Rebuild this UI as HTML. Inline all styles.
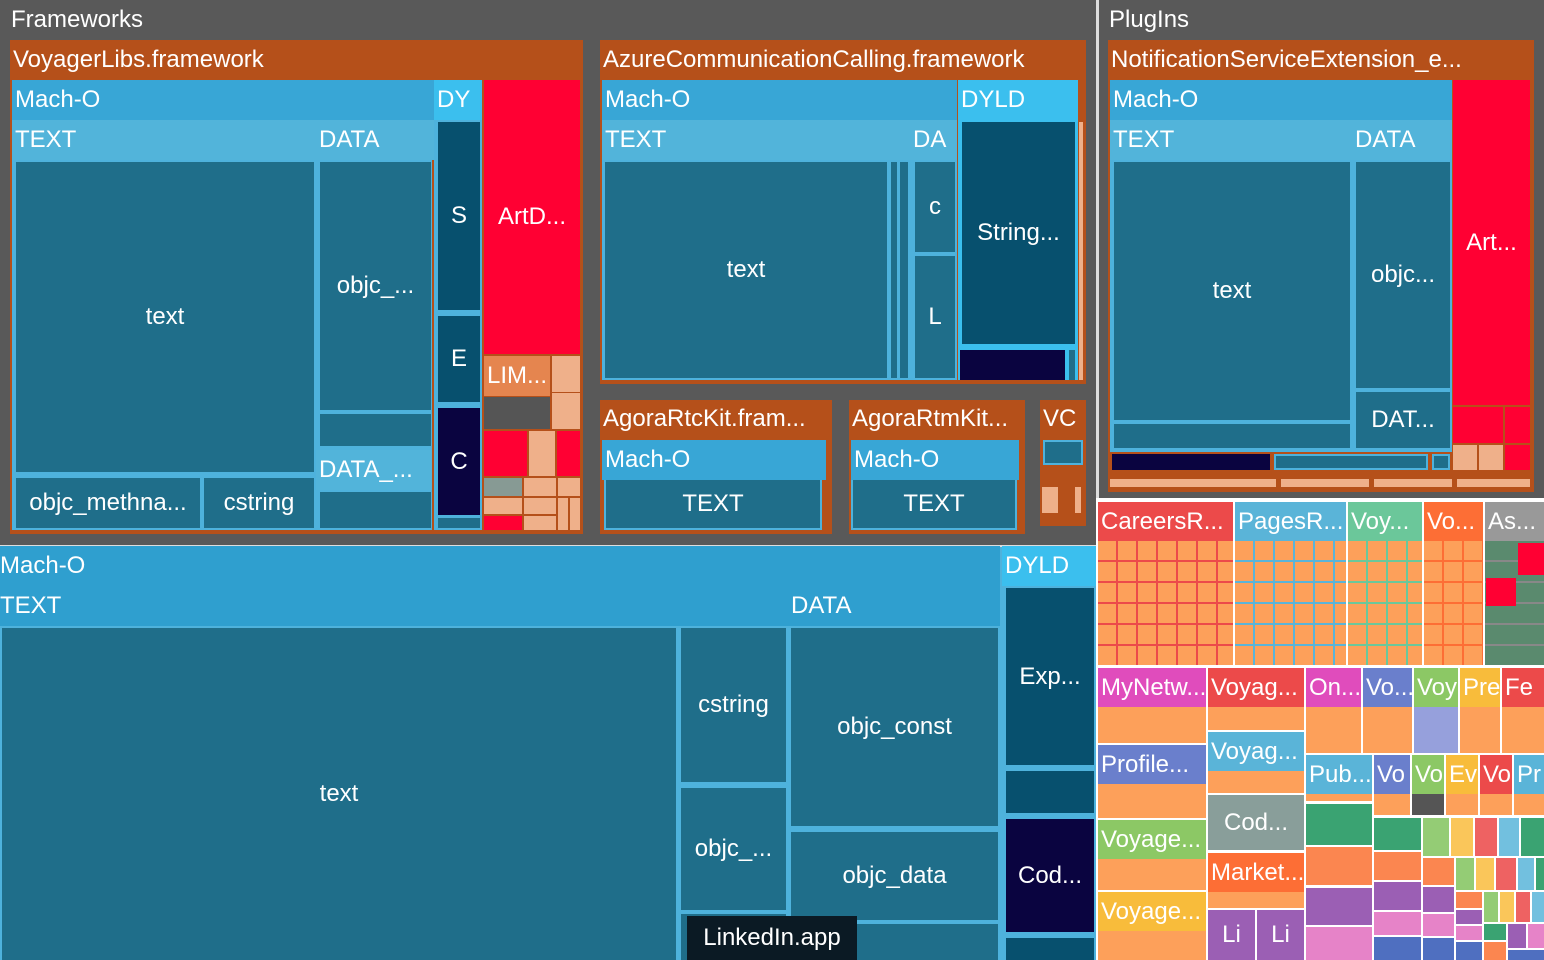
<!DOCTYPE html>
<html><head><meta charset="utf-8"><style>
body{margin:0;width:1544px;height:960px;overflow:hidden;background:#595959;position:relative;font-family:"Liberation Sans",sans-serif;color:#fff}
div{position:absolute;box-sizing:border-box;overflow:hidden;white-space:nowrap}
.h{font-size:24px;line-height:40px;padding-left:3px}
.c{display:flex;align-items:center;justify-content:center;font-size:24px}
.o{background:#b5501a}.m{background:#38a6d6}.t{background:#52b4da}.k{background:#1f6e8a}
.y{background:#3bbfee}.d{background:#07506e}.n{background:#0a0440}.r{background:#ff0033}.p{background:#fda05a}.q{background:#efb08a}
</style></head><body>
<div class="h" style="left:8px;top:0;line-height:40px">Frameworks</div>
<div class="h" style="left:1106px;top:0">PlugIns</div>
<div style="left:1096px;top:0;width:3px;height:545px;background:#ddd"></div>

<!-- VoyagerLibs -->
<div class="o" style="left:10px;top:40px;width:573px;height:494px"></div>
<div class="h" style="left:10px;top:40px">VoyagerLibs.framework</div>
<div class="m" style="left:12px;top:80px;width:420px;height:450px;background:#4eb2dc"></div>
<div class="h m" style="left:12px;top:80px;width:422px;height:40px">Mach-O</div>
<div class="h t" style="left:12px;top:120px;width:304px;height:40px">TEXT</div>
<div class="k c" style="left:16px;top:162px;width:298px;height:310px">text</div>
<div class="k c" style="left:16px;top:478px;width:184px;height:50px">objc_methna...</div>
<div class="k c" style="left:204px;top:478px;width:110px;height:50px">cstring</div>
<div class="h t" style="left:316px;top:120px;width:118px;height:40px">DATA</div>
<div class="k c" style="left:320px;top:162px;width:111px;height:248px">objc_...</div>
<div class="k" style="left:320px;top:414px;width:111px;height:32px"></div>
<div class="h t" style="left:316px;top:450px;width:116px;height:40px">DATA_...</div>
<div class="k" style="left:320px;top:492px;width:111px;height:36px"></div>
<div class="y" style="left:434px;top:80px;width:48px;height:450px;background:#4eb2dc"></div>
<div class="h y" style="left:434px;top:80px;width:48px;height:40px">DY</div>
<div class="d c" style="left:438px;top:122px;width:42px;height:188px">S</div>
<div class="d c" style="left:438px;top:316px;width:42px;height:86px">E</div>
<div class="n c" style="left:438px;top:408px;width:42px;height:107px">C</div>
<div class="k" style="left:438px;top:518px;width:42px;height:10px"></div>
<div class="r c" style="left:484px;top:80px;width:96px;height:274px">ArtD...</div>
<div class="h" style="left:484px;top:356px;width:66px;height:40px;background:#e5854f">LIM...</div>
<div style="left:484px;top:397px;width:66px;height:32px;background:#555"></div>
<div class="q" style="left:552px;top:356px;width:28px;height:36px"></div>
<div class="q" style="left:552px;top:393px;width:28px;height:36px"></div>
<div class="r" style="left:484px;top:431px;width:43px;height:45px"></div>
<div class="q" style="left:529px;top:431px;width:26px;height:45px"></div>
<div class="r" style="left:557px;top:431px;width:23px;height:45px"></div>
<div style="left:484px;top:478px;width:38px;height:18px;background:#879a94"></div>
<div class="q" style="left:524px;top:478px;width:32px;height:18px"></div>
<div class="q" style="left:558px;top:478px;width:22px;height:18px"></div>
<div class="q" style="left:484px;top:498px;width:38px;height:16px"></div>
<div class="q" style="left:524px;top:498px;width:32px;height:16px"></div>
<div class="q" style="left:558px;top:498px;width:10px;height:32px"></div>
<div class="q" style="left:570px;top:498px;width:10px;height:32px"></div>
<div class="r" style="left:484px;top:516px;width:38px;height:14px"></div>
<div class="q" style="left:524px;top:516px;width:32px;height:14px"></div>

<!-- Azure -->
<div class="o" style="left:600px;top:40px;width:486px;height:344px"></div>
<div class="h" style="left:600px;top:40px">AzureCommunicationCalling.framework</div>
<div style="left:602px;top:80px;width:355px;height:300px;background:#4eb2dc"></div>
<div class="h m" style="left:602px;top:80px;width:355px;height:40px">Mach-O</div>
<div class="h t" style="left:602px;top:120px;width:308px;height:40px">TEXT</div>
<div class="k c" style="left:605px;top:162px;width:282px;height:216px">text</div>
<div class="k" style="left:891px;top:162px;width:6px;height:216px"></div>
<div class="k" style="left:900px;top:162px;width:8px;height:216px"></div>
<div class="h t" style="left:910px;top:120px;width:47px;height:40px">DA</div>
<div class="k c" style="left:915px;top:162px;width:40px;height:90px">c</div>
<div class="k c" style="left:915px;top:256px;width:40px;height:122px">L</div>
<div style="left:958px;top:80px;width:120px;height:300px;background:#3bbfee"></div>
<div class="h y" style="left:958px;top:80px;width:120px;height:40px">DYLD</div>
<div class="d c" style="left:962px;top:122px;width:113px;height:222px">String...</div>
<div class="n" style="left:960px;top:350px;width:105px;height:30px"></div>
<div class="k" style="left:1069px;top:350px;width:6px;height:30px"></div>
<div class="q" style="left:1079px;top:122px;width:4px;height:258px"></div>

<!-- Agora -->
<div class="o" style="left:600px;top:400px;width:232px;height:134px"></div>
<div class="h" style="left:600px;top:399px">AgoraRtcKit.fram...</div>
<div class="h m" style="left:602px;top:440px;width:224px;height:40px">Mach-O</div>
<div class="k c" style="left:604px;top:480px;width:218px;height:50px;border:2px solid #4eb2dc;border-top:0">TEXT</div>
<div class="o" style="left:849px;top:400px;width:176px;height:134px"></div>
<div class="h" style="left:849px;top:399px">AgoraRtmKit...</div>
<div class="h m" style="left:851px;top:440px;width:168px;height:40px">Mach-O</div>
<div class="k c" style="left:851px;top:480px;width:166px;height:50px;border:2px solid #4eb2dc;border-top:0">TEXT</div>
<div class="o" style="left:1040px;top:400px;width:46px;height:126px"></div>
<div class="h" style="left:1040px;top:399px">VC</div>
<div class="k" style="left:1043px;top:440px;width:40px;height:25px;border:2px solid #4eb2dc"></div>
<div class="q" style="left:1042px;top:487px;width:16px;height:26px"></div>
<div class="q" style="left:1075px;top:487px;width:6px;height:26px"></div>

<!-- PlugIns -->
<div class="o" style="left:1108px;top:40px;width:426px;height:452px"></div>
<div class="h" style="left:1108px;top:40px">NotificationServiceExtension_e...</div>
<div style="left:1110px;top:80px;width:342px;height:372px;background:#4eb2dc"></div>
<div class="h m" style="left:1110px;top:80px;width:342px;height:40px">Mach-O</div>
<div class="h t" style="left:1110px;top:120px;width:242px;height:40px">TEXT</div>
<div class="k c" style="left:1114px;top:162px;width:236px;height:258px">text</div>
<div class="k" style="left:1114px;top:424px;width:236px;height:24px"></div>
<div class="h t" style="left:1352px;top:120px;width:100px;height:40px">DATA</div>
<div class="k c" style="left:1356px;top:162px;width:94px;height:226px">objc...</div>
<div class="k c" style="left:1356px;top:392px;width:94px;height:56px">DAT...</div>
<div class="r c" style="left:1453px;top:80px;width:77px;height:325px">Art...</div>
<div class="r" style="left:1453px;top:407px;width:50px;height:36px"></div>
<div class="r" style="left:1505px;top:407px;width:25px;height:36px"></div>
<div class="q" style="left:1453px;top:445px;width:24px;height:25px"></div>
<div class="q" style="left:1479px;top:445px;width:24px;height:25px"></div>
<div class="r" style="left:1505px;top:445px;width:25px;height:25px"></div>
<div class="n" style="left:1112px;top:454px;width:158px;height:16px"></div>
<div class="k" style="left:1274px;top:454px;width:154px;height:16px;border:2px solid #4eb2dc"></div>
<div class="k" style="left:1432px;top:454px;width:18px;height:16px;border:2px solid #4eb2dc"></div>
<div class="q" style="left:1110px;top:479px;width:166px;height:8px"></div>
<div class="q" style="left:1281px;top:479px;width:88px;height:8px"></div>
<div class="q" style="left:1374px;top:479px;width:78px;height:8px"></div>
<div class="q" style="left:1457px;top:479px;width:73px;height:8px"></div>

<!-- Main app -->
<div style="left:0;top:545px;width:1098px;height:415px;background:#4eb2dc;border-top:2px solid #ddd"></div>
<div class="h" style="left:0;top:546px;width:1000px;height:40px;background:#2f9fcf;padding-left:0">Mach-O</div>
<div class="h" style="left:0;top:586px;width:788px;height:40px;background:#2f9fcf;padding-left:0">TEXT</div>
<div class="k c" style="left:2px;top:628px;width:674px;height:332px">text</div>
<div class="k c" style="left:681px;top:628px;width:105px;height:154px">cstring</div>
<div class="k c" style="left:681px;top:788px;width:105px;height:122px">objc_...</div>
<div class="k" style="left:681px;top:914px;width:105px;height:46px"></div>
<div class="h" style="left:788px;top:586px;width:212px;height:40px;background:#2f9fcf">DATA</div>
<div class="k c" style="left:791px;top:628px;width:207px;height:198px">objc_const</div>
<div class="k c" style="left:791px;top:832px;width:207px;height:88px">objc_data</div>
<div class="k" style="left:791px;top:924px;width:207px;height:36px"></div>
<div class="h y" style="left:1002px;top:546px;width:94px;height:40px">DYLD</div>
<div class="d c" style="left:1006px;top:588px;width:88px;height:177px">Exp...</div>
<div class="d" style="left:1006px;top:771px;width:88px;height:42px"></div>
<div class="n c" style="left:1006px;top:819px;width:88px;height:113px">Cod...</div>
<div class="d" style="left:1006px;top:938px;width:88px;height:22px"></div>
<div class="c" style="left:687px;top:916px;width:170px;height:44px;background:#0b1a24">LinkedIn.app</div>

<!-- bottom right -->
<div style="left:1096px;top:498px;width:448px;height:462px;background:#fff"></div>
<div class="p" style="left:1098px;top:502px;width:135px;height:163px;background:repeating-linear-gradient(0deg,transparent 0 19px,#ec4a4a 19px 21px),repeating-linear-gradient(90deg,#fda05a 0 18px,#ec4a4a 18px 20px)"></div>
<div class="h" style="left:1098px;top:502px;width:135px;height:39px;background:#ec4a4a;line-height:39px">CareersR...</div>
<div class="p" style="left:1235px;top:502px;width:111px;height:163px;background:repeating-linear-gradient(0deg,transparent 0 19px,#5ab4d8 19px 21px),repeating-linear-gradient(90deg,#fda05a 0 18px,#5ab4d8 18px 20px)"></div>
<div class="h" style="left:1235px;top:502px;width:111px;height:39px;background:#5ab4d8;line-height:39px">PagesR...</div>
<div class="p" style="left:1348px;top:502px;width:74px;height:163px;background:repeating-linear-gradient(0deg,transparent 0 19px,#6bc79a 19px 21px),repeating-linear-gradient(90deg,#fda05a 0 18px,#6bc79a 18px 20px)"></div>
<div class="h" style="left:1348px;top:502px;width:74px;height:39px;background:#6bc79a;line-height:39px">Voy...</div>
<div class="p" style="left:1424px;top:502px;width:59px;height:163px;background:repeating-linear-gradient(0deg,transparent 0 19px,#fd6e35 19px 21px),repeating-linear-gradient(90deg,#fda05a 0 18px,#fd6e35 18px 20px)"></div>
<div class="h" style="left:1424px;top:502px;width:59px;height:39px;background:#fd6e35;line-height:39px">Vo...</div>
<div style="left:1485px;top:502px;width:59px;height:163px;background:repeating-linear-gradient(0deg,#5a8a6e 0 19px,#888 19px 21px)"></div>
<div class="h" style="left:1485px;top:502px;width:59px;height:39px;background:#999;line-height:39px">As...</div>
<div class="r" style="left:1518px;top:543px;width:26px;height:32px"></div>
<div class="r" style="left:1486px;top:578px;width:30px;height:28px"></div>

<div class="p" style="left:1098px;top:668px;width:108px;height:75px"></div>
<div class="h" style="left:1098px;top:668px;width:108px;height:39px;background:#e04cbc;line-height:39px">MyNetw...</div>
<div class="p" style="left:1208px;top:668px;width:96px;height:62px"></div>
<div class="h" style="left:1208px;top:668px;width:96px;height:39px;background:#ec4a4a;line-height:39px">Voyag...</div>
<div class="p" style="left:1208px;top:732px;width:96px;height:61px"></div>
<div class="h" style="left:1208px;top:732px;width:96px;height:39px;background:#5ab4d8;line-height:39px">Voyag...</div>
<div class="p" style="left:1306px;top:668px;width:55px;height:85px"></div>
<div class="h" style="left:1306px;top:668px;width:55px;height:39px;background:#e04cbc;line-height:39px">On...</div>
<div class="p" style="left:1363px;top:668px;width:49px;height:85px"></div>
<div class="h" style="left:1363px;top:668px;width:49px;height:39px;background:#6a7fcc;line-height:39px">Vo...</div>
<div style="left:1414px;top:668px;width:44px;height:85px;background:#96a0dc"></div>
<div class="h" style="left:1414px;top:668px;width:44px;height:39px;background:#8cc865;line-height:39px">Voy</div>
<div class="p" style="left:1460px;top:668px;width:40px;height:85px"></div>
<div class="h" style="left:1460px;top:668px;width:40px;height:39px;background:#f8bc3b;line-height:39px">Pre</div>
<div class="p" style="left:1502px;top:668px;width:42px;height:85px"></div>
<div class="h" style="left:1502px;top:668px;width:42px;height:39px;background:#ec4a4a;line-height:39px">Fe</div>

<div class="p" style="left:1098px;top:745px;width:108px;height:73px"></div>
<div class="h" style="left:1098px;top:745px;width:108px;height:39px;background:#6a7fcc;line-height:39px">Profile...</div>
<div class="p" style="left:1098px;top:820px;width:108px;height:70px"></div>
<div class="h" style="left:1098px;top:820px;width:108px;height:39px;background:#8cc865;line-height:39px">Voyage...</div>
<div class="p" style="left:1098px;top:892px;width:108px;height:68px"></div>
<div class="h" style="left:1098px;top:892px;width:108px;height:39px;background:#f8bc3b;line-height:39px">Voyage...</div>
<div class="c" style="left:1208px;top:795px;width:96px;height:55px;background:#899e9a">Cod...</div>
<div class="p" style="left:1208px;top:853px;width:96px;height:55px"></div>
<div class="h" style="left:1208px;top:853px;width:96px;height:39px;background:#fd6e35;line-height:39px">Market...</div>
<div class="c" style="left:1208px;top:910px;width:47px;height:50px;background:#9b5fb4">Li</div>
<div class="c" style="left:1257px;top:910px;width:47px;height:50px;background:#9b5fb4">Li</div>

<div class="p" style="left:1306px;top:755px;width:66px;height:46px"></div>
<div class="h" style="left:1306px;top:755px;width:66px;height:39px;background:#5ab4d8;line-height:39px">Pub...</div>
<div class="p" style="left:1374px;top:755px;width:36px;height:60px"></div>
<div class="h" style="left:1374px;top:755px;width:36px;height:39px;background:#6a7fcc;line-height:39px">Vo</div>
<div style="left:1412px;top:755px;width:32px;height:60px;background:#555"></div>
<div class="h" style="left:1412px;top:755px;width:32px;height:39px;background:#8cc865;line-height:39px">Vo</div>
<div class="p" style="left:1446px;top:755px;width:32px;height:60px"></div>
<div class="h" style="left:1446px;top:755px;width:32px;height:39px;background:#f8bc3b;line-height:39px">Ev</div>
<div class="p" style="left:1480px;top:755px;width:32px;height:60px"></div>
<div class="h" style="left:1480px;top:755px;width:32px;height:39px;background:#ec4a4a;line-height:39px">Vo</div>
<div class="p" style="left:1514px;top:755px;width:30px;height:60px"></div>
<div class="h" style="left:1514px;top:755px;width:30px;height:39px;background:#5ab4d8;line-height:39px">Pr</div>

<div style="left:1306px;top:804px;width:66px;height:41px;background:#3aa372"></div>
<div style="left:1306px;top:847px;width:66px;height:38px;background:#fb8650"></div>
<div style="left:1306px;top:888px;width:66px;height:37px;background:#9b5fb4"></div>
<div style="left:1306px;top:927px;width:66px;height:33px;background:#e683c8"></div>
<div style="left:1374px;top:818px;width:47px;height:32px;background:#3aa372"></div>
<div style="left:1374px;top:852px;width:47px;height:28px;background:#fb8650"></div>
<div style="left:1374px;top:882px;width:47px;height:28px;background:#9b5fb4"></div>
<div style="left:1374px;top:912px;width:47px;height:23px;background:#e683c8"></div>
<div style="left:1374px;top:937px;width:47px;height:23px;background:#4f6fc0"></div>
<div style="left:1423px;top:818px;width:26px;height:38px;background:#94cc75"></div>
<div style="left:1451px;top:818px;width:22px;height:38px;background:#fac65a"></div>
<div style="left:1475px;top:818px;width:22px;height:38px;background:#ee6262"></div>
<div style="left:1499px;top:818px;width:20px;height:38px;background:#72c0df"></div>
<div style="left:1521px;top:818px;width:23px;height:38px;background:#3aa372"></div>
<div style="left:1423px;top:858px;width:31px;height:27px;background:#fb8650"></div>
<div style="left:1423px;top:887px;width:31px;height:25px;background:#9b5fb4"></div>
<div style="left:1423px;top:914px;width:31px;height:22px;background:#e683c8"></div>
<div style="left:1423px;top:938px;width:31px;height:22px;background:#4f6fc0"></div>
<div style="left:1456px;top:858px;width:18px;height:32px;background:#94cc75"></div>
<div style="left:1476px;top:858px;width:18px;height:32px;background:#fac65a"></div>
<div style="left:1496px;top:858px;width:20px;height:32px;background:#ee6262"></div>
<div style="left:1518px;top:858px;width:16px;height:32px;background:#72c0df"></div>
<div style="left:1536px;top:858px;width:8px;height:32px;background:#3aa372"></div>
<div style="left:1456px;top:892px;width:26px;height:16px;background:#fb8650"></div>
<div style="left:1456px;top:910px;width:26px;height:14px;background:#9b5fb4"></div>
<div style="left:1456px;top:926px;width:26px;height:14px;background:#e683c8"></div>
<div style="left:1456px;top:942px;width:26px;height:18px;background:#4f6fc0"></div>
<div style="left:1484px;top:892px;width:14px;height:30px;background:#94cc75"></div>
<div style="left:1500px;top:892px;width:14px;height:30px;background:#fac65a"></div>
<div style="left:1516px;top:892px;width:14px;height:30px;background:#ee6262"></div>
<div style="left:1532px;top:892px;width:12px;height:30px;background:#72c0df"></div>
<div style="left:1484px;top:924px;width:22px;height:16px;background:#3aa372"></div>
<div style="left:1508px;top:924px;width:18px;height:24px;background:#9b5fb4"></div>
<div style="left:1528px;top:924px;width:16px;height:24px;background:#e683c8"></div>
<div style="left:1484px;top:942px;width:22px;height:18px;background:#fb8650"></div>
<div style="left:1508px;top:950px;width:36px;height:10px;background:#4f6fc0"></div>
</body></html>
